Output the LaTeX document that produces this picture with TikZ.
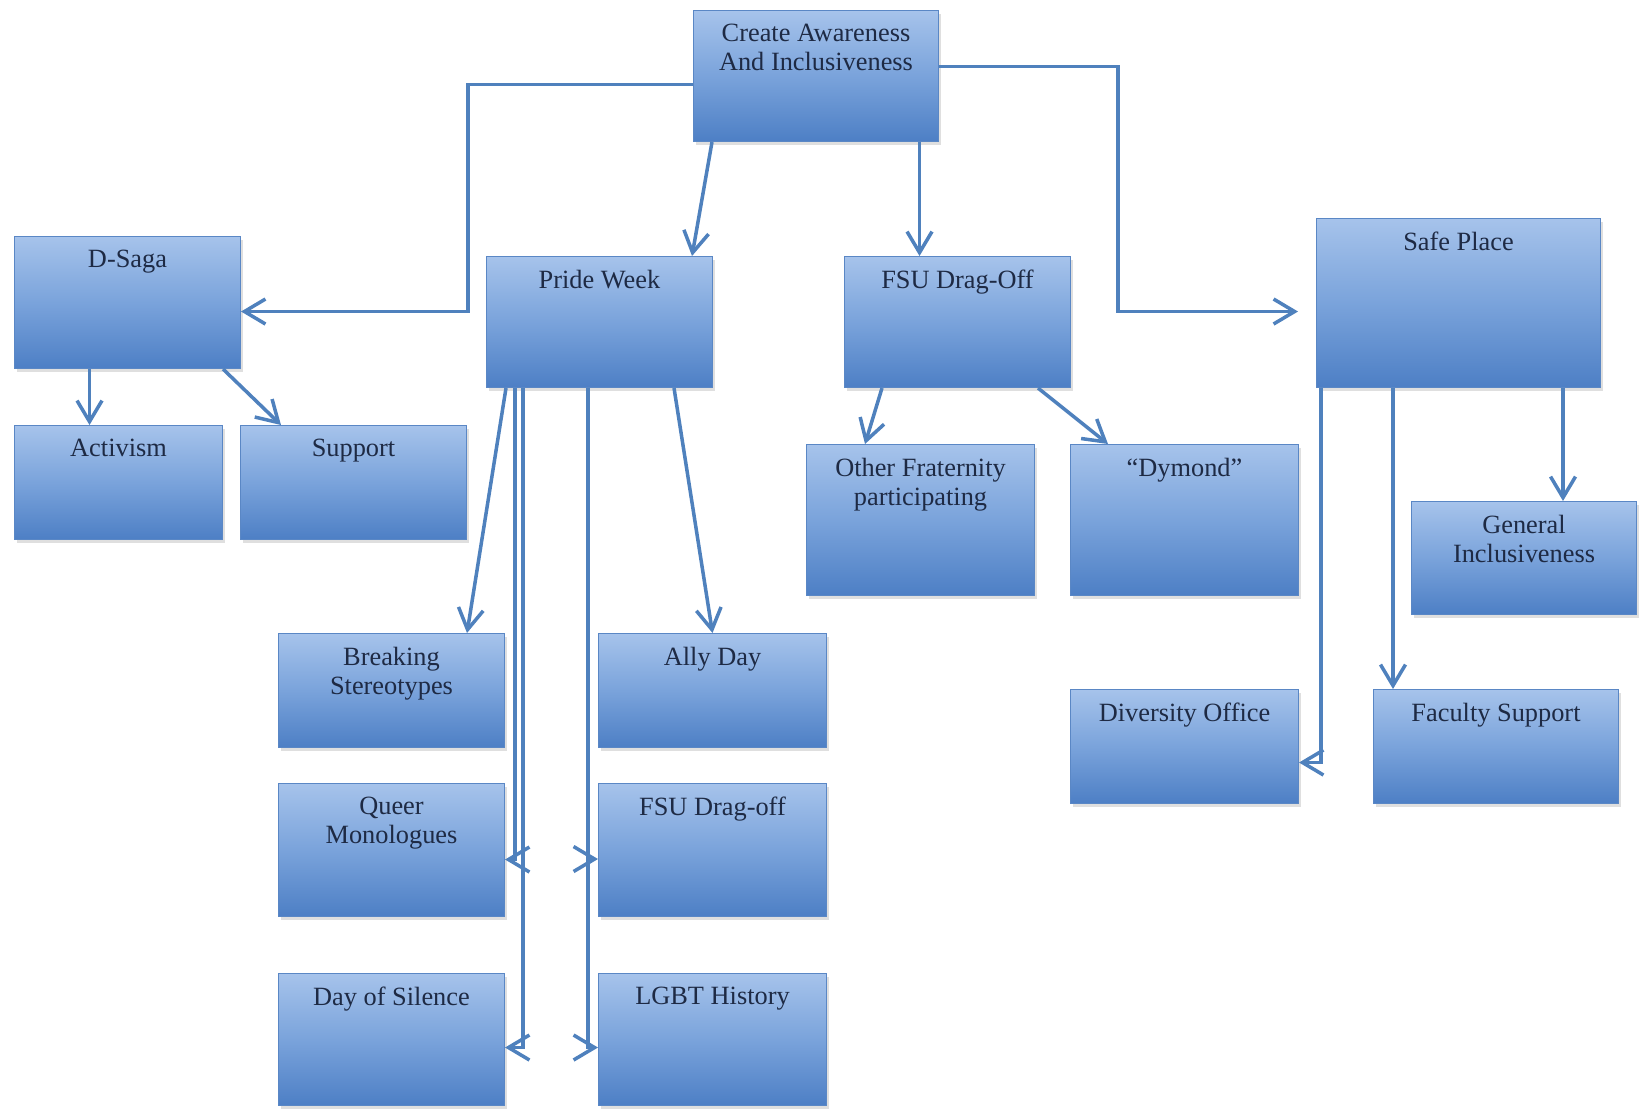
\documentclass[tikz,border=0pt]{standalone}
\usepackage{fontspec}
\setmainfont{Liberation Serif}
\usetikzlibrary{arrows.meta,shadows}
\definecolor{lineBlue}{HTML}{4F81BD}
\definecolor{boxTop}{HTML}{A6C3EB}
\definecolor{boxMid}{HTML}{7AA3DB}
\definecolor{boxBot}{HTML}{4D7FC5}
\definecolor{boxEdge}{HTML}{5A87C5}
\definecolor{inkNavy}{HTML}{1E2A44}

\begin{document}
\begin{tikzpicture}[
  x=0.02cm, y=-0.02cm,
  box/.style={draw=boxEdge, line width=0.6pt, anchor=north west, inner sep=0pt,
              top color=boxTop, bottom color=boxBot, middle color=boxMid,
              drop shadow={opacity=0.25, shadow xshift=0.05cm, shadow yshift=-0.06cm},
              minimum width=4.52cm, minimum height=2.28cm},
  lbl/.style={anchor=north, yshift=-0.28cm, inner sep=0pt, align=center,
              text=inkNavy, font=\fontsize{15}{16.5}\selectfont},
  arr/.style={-{Straight Barb[length=0.42cm, width=0.5cm]}, line width=2pt, draw=lineBlue}
]
\useasboundingbox (0,0) rectangle (1642,1110);

\node[box, minimum width=4.9cm, minimum height=2.62cm,
      label={[lbl]north:Create Awareness\\And Inclusiveness}] (create) at (693,10) {};
\node[box, minimum height=2.64cm, label={[lbl]north:D-Saga}] (dsaga) at (14,236) {};
\node[box, minimum width=4.16cm, label={[lbl]north:Activism}] (activism) at (14,425) {};
\node[box, label={[lbl]north:Support}] (support) at (240,425) {};
\node[box, minimum height=2.62cm, label={[lbl]north:Pride Week}] (pride) at (486,256) {};
\node[box, minimum height=2.62cm, label={[lbl]north:FSU Drag-Off}] (fdo) at (844,256) {};
\node[box, minimum width=5.68cm, minimum height=3.38cm, label={[lbl]north:Safe Place}] (safe) at (1316,218) {};
\node[box, minimum width=4.56cm, minimum height=3.02cm,
      label={[lbl]north:Other Fraternity\\participating}] (other) at (806,444) {};
\node[box, minimum width=4.56cm, minimum height=3.02cm, label={[lbl]north:“Dymond”}] (dymond) at (1070,444) {};
\node[box, minimum width=4.5cm, minimum height=2.26cm,
      label={[lbl]north:General\\Inclusiveness}] (general) at (1411,501) {};
\node[box, minimum width=4.56cm, label={[lbl]north:Diversity Office}] (diversity) at (1070,689) {};
\node[box, minimum width=4.9cm, label={[lbl]north:Faculty Support}] (faculty) at (1373,689) {};
\node[box, label={[lbl]north:Breaking\\Stereotypes}] (breaking) at (278,633) {};
\node[box, minimum width=4.56cm, label={[lbl]north:Ally Day}] (ally) at (598,633) {};
\node[box, minimum height=2.66cm, label={[lbl]north:Queer\\Monologues}] (queer) at (278,783) {};
\node[box, minimum width=4.56cm, minimum height=2.66cm, label={[lbl]north:FSU Drag-off}] (fdotwo) at (598,783) {};
\node[box, minimum height=2.64cm, label={[lbl]north:Day of Silence}] (silence) at (278,973) {};
\node[box, minimum width=4.56cm, minimum height=2.64cm, label={[lbl]north:LGBT History}] (lgbt) at (598,973) {};

\draw[arr] ([yshift=-0.17cm]create.west) -| ([xshift=4.54cm, yshift=-0.18cm]dsaga.east) -- ([yshift=-0.18cm]dsaga.east);
\draw[arr] ([yshift=0.19cm]create.east) -| ([xshift=-3.96cm, yshift=-0.17cm]safe.west) -- ([xshift=-0.36cm, yshift=-0.17cm]safe.west);
\draw[arr] ([xshift=0.38cm]create.south west) -- ([xshift=-0.42cm]pride.north east);
\draw[arr] ([xshift=-0.76cm]fdo.north |- create.south) -- ([xshift=-0.76cm]fdo.north);
\draw[arr] ([xshift=-0.76cm]dsaga.south) -- ([xshift=-0.76cm]dsaga.south |- activism.north);
\draw[arr] ([xshift=-0.36cm]dsaga.south east) -- ([xshift=0.82cm]support.north west);
\draw[arr] ([xshift=0.4cm]pride.south west) -- ([xshift=-0.76cm]breaking.north east);
\draw[arr] ([xshift=-0.78cm]pride.south east) -- (ally.north);
\draw[arr] ([xshift=0.58cm]pride.south west) |- ([yshift=-0.19cm]queer.east);
\draw[arr] ([xshift=0.74cm]pride.south west) |- ([yshift=-0.16cm]silence.east);
\draw[arr] ([xshift=2.04cm]pride.south west) |- ([yshift=-0.18cm]fdotwo.west);
\draw[arr] ([xshift=2.04cm]pride.south west) |- ([yshift=-0.16cm]lgbt.west);
\draw[arr] ([xshift=0.76cm]fdo.south west) -- ([xshift=1.18cm]other.north west);
\draw[arr] ([xshift=-0.66cm]fdo.south east) -- ([xshift=0.76cm]dymond.north west);
\draw[arr] ([xshift=0.1cm]safe.south west) |- ([yshift=-0.32cm]diversity.east);
\draw[arr] ([xshift=1.54cm]safe.south west) -- ([xshift=1.54cm]safe.south west |- faculty.north);
\draw[arr] ([xshift=-0.76cm]safe.south east) -- ([xshift=-0.76cm]safe.south east |- general.north);
\end{tikzpicture}
\end{document}
